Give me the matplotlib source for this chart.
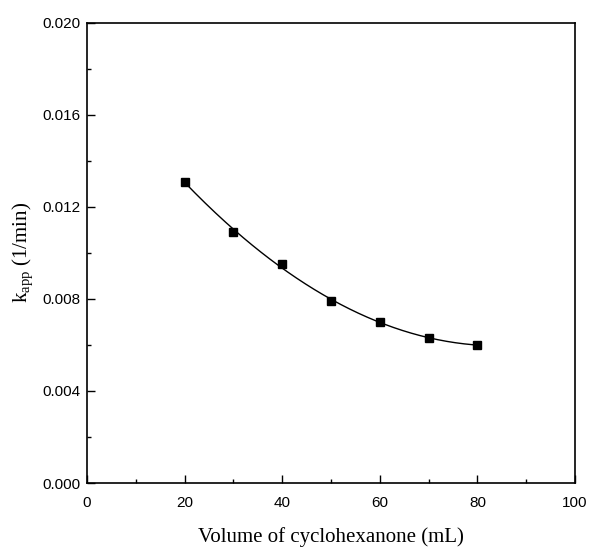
import numpy as np
import matplotlib
matplotlib.use("Agg")
import matplotlib.pyplot as plt
from matplotlib.ticker import MultipleLocator

# data
volume = [20, 30, 40, 50, 60, 70, 80]
k_app = [0.0131, 0.0109, 0.0095, 0.0079, 0.0070, 0.0063, 0.0060]
k_err = [0.00012, 0.00012, 0.0001, 0.0001, 0.0001, 0.0001, 0.0001]

fig = plt.figure(figsize=(5.9, 5.49), dpi=100)
ax = fig.add_axes([0.1475, 0.1202, 0.8271, 0.8384])

# smooth fitted curve through the points (2nd order polynomial)
coef = np.polyfit(volume, k_app, 2)
xf = np.linspace(volume[0], volume[-1], 200)
ax.plot(xf, np.polyval(coef, xf), color="black", lw=1.0)
ax.errorbar(volume, k_app, yerr=k_err, fmt="s", color="black", ms=6,
            elinewidth=1, capsize=0)

ax.set_xlim(0, 100)
ax.set_ylim(0, 0.020)
ax.xaxis.set_major_locator(MultipleLocator(20))
ax.xaxis.set_minor_locator(MultipleLocator(10))
ax.yaxis.set_major_locator(MultipleLocator(0.004))
ax.yaxis.set_minor_locator(MultipleLocator(0.002))
ax.set_yticklabels(["%.3f" % v for v in ax.get_yticks()])

for s in ax.spines.values():
    s.set_linewidth(1.2)
ax.tick_params(which="both", direction="in", top=False, right=False,
               width=1.0, labelsize=11)
ax.tick_params(which="major", length=6)
ax.tick_params(which="minor", length=3)
ax.tick_params(axis="x", pad=9)
ax.tick_params(axis="y", pad=5)
for lab in ax.get_xticklabels() + ax.get_yticklabels():
    lab.set_family("Liberation Sans")

ax.set_xlabel("Volume of cyclohexanone (mL)", family="Liberation Serif",
              fontsize=15, labelpad=13)
ax.set_ylabel(r"k$_{\mathregular{app}}$ (1/min)", family="Liberation Serif",
              fontsize=15, labelpad=4)

fig.savefig("out.png", dpi=100)
